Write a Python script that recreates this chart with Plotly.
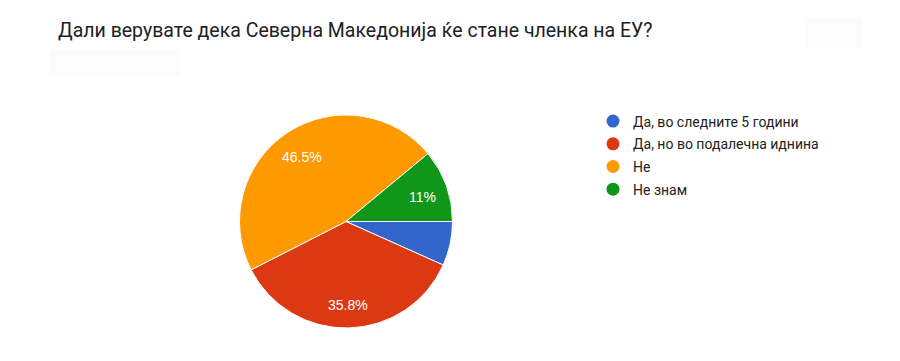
import math
import plotly.graph_objects as go

title = "Дали верувате дека Северна Македонија ќе стане членка на ЕУ?"
categories = ["Да, во следните 5 години", "Да, но во подалечна иднина", "Не", "Не знам"]
values = [6.7, 35.8, 46.5, 11.0]
colors = ["#3366cc", "#dc3912", "#ff9900", "#109618"]

W, H = 900, 361
cx, cy, r = 346, 221.5, 106.5
start_deg = 90  # first slice starts at 3 o'clock, clockwise
label_frac = 0.76

fig = go.Figure()
fig.add_trace(go.Pie(
    labels=categories,
    values=values,
    textinfo="none",
    marker=dict(colors=colors, line=dict(color="white", width=1)),
    sort=False,
    direction="clockwise",
    rotation=start_deg,
    showlegend=False,
    hoverinfo="label+percent",
    domain=dict(x=[(cx - r) / W, (cx + r) / W], y=[(H - cy - r) / H, (H - cy + r) / H]),
))

# slice labels placed at slice mid-angles (Google-chart style, small slices unlabeled)
annotations = []
total = sum(values)
acc = 0.0
for v in values:
    mid = start_deg + (acc + v / 2) / total * 360
    acc += v
    if v / total < 0.10:
        continue
    a = math.radians(mid)
    px = cx + label_frac * r * math.sin(a)
    py = cy - label_frac * r * math.cos(a)
    annotations.append(dict(
        text=f"{v:g}%", x=px / W, y=1 - py / H, xref="paper", yref="paper",
        xanchor="center", yanchor="middle", showarrow=False, yshift=-3,
        font=dict(family="Liberation Sans, Arial", size=14, color="white"),
    ))

annotations.append(dict(
    text=title, x=56 / W, y=1 - 31 / H, xref="paper", yref="paper",
    xanchor="left", yanchor="middle", showarrow=False,
    font=dict(family="Roboto", size=19.5, color="#202124"),
))

# legend entries with circular swatches
for i, (cat, col) in enumerate(zip(categories, colors)):
    fig.add_trace(go.Scatter(
        x=[None], y=[None], mode="markers", name=cat, legendgroup=f"g{i}",
        marker=dict(color=col, size=13, symbol="circle"),
        showlegend=True,
    ))

fig.update_layout(
    width=W, height=H,
    margin=dict(l=0, r=0, t=0, b=0),
    paper_bgcolor="white",
    plot_bgcolor="white",
    xaxis=dict(visible=False),
    yaxis=dict(visible=False),
    legend=dict(
        x=593 / W, y=1 - 105.5 / H, xanchor="left", yanchor="top",
        font=dict(family="Roboto", size=14, color="#222222"),
        bgcolor="rgba(0,0,0,0)",
        tracegroupgap=1.5,
        itemclick=False, itemdoubleclick=False,
    ),
    annotations=annotations,
    shapes=[
        dict(type="rect", xref="paper", yref="paper",
             x0=50 / W, x1=180 / W, y0=1 - 76 / H, y1=1 - 50 / H,
             fillcolor="#fcfcfc", line=dict(width=0), layer="below"),
        dict(type="rect", xref="paper", yref="paper",
             x0=805 / W, x1=862 / W, y0=1 - 48 / H, y1=1 - 18 / H,
             fillcolor="#fcfcfc", line=dict(width=0), layer="below"),
    ],
)

fig.write_html("out.html")
